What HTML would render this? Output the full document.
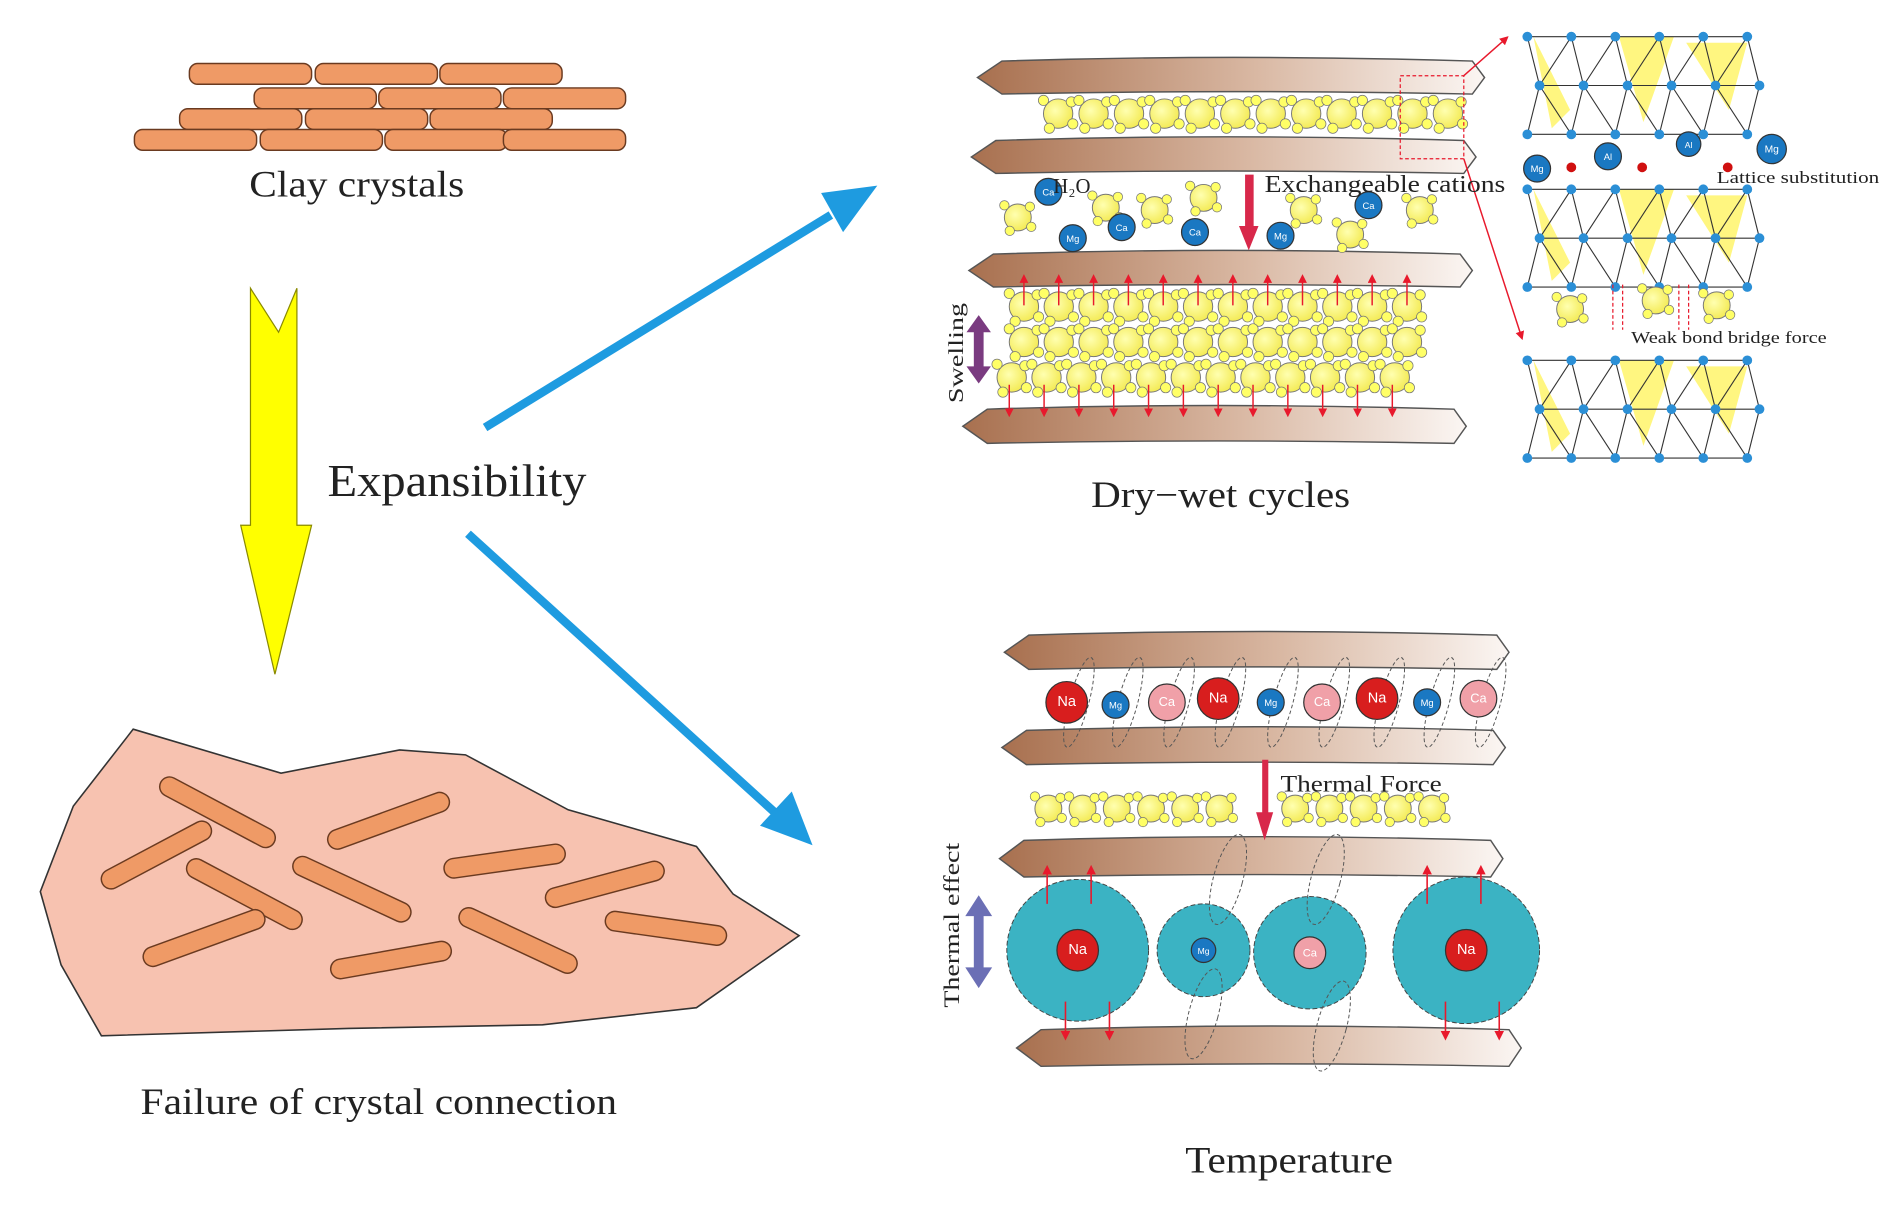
<!DOCTYPE html>
<html><head><meta charset="utf-8">
<style>
html,body{margin:0;padding:0;background:#fff;width:1900px;height:1208px;overflow:hidden}
svg{display:block}
text{font-family:"Liberation Serif",serif;fill:#222}
</style></head>
<body>
<svg id="s" width="1900" height="1208" viewBox="0 0 1555 989" preserveAspectRatio="none" xmlns="http://www.w3.org/2000/svg">
<defs>
<linearGradient id="pl" x1="0" x2="1" y1="0" y2="0">
<stop offset="0" stop-color="#a8704f"/><stop offset="0.55" stop-color="#d9b8a3"/><stop offset="1" stop-color="#fbf6f3"/>
</linearGradient>
<radialGradient id="yb" cx="0.4" cy="0.4" r="0.7"><stop offset="0" stop-color="#ffffb0"/><stop offset="1" stop-color="#f2e84a"/></radialGradient>
<marker id="ra" markerWidth="6" markerHeight="6" refX="3" refY="3" orient="auto"><path d="M0,0L6,3L0,6z" fill="#e8192c"/></marker>
</defs>
<g id="g"></g>
<text x="292" y="161" font-size="30" text-anchor="middle" textLength="176" lengthAdjust="spacingAndGlyphs">Clay crystals</text>
<text x="268" y="406" font-size="37" textLength="212" lengthAdjust="spacingAndGlyphs">Expansibility</text>
<text x="115" y="912" font-size="30" textLength="390" lengthAdjust="spacingAndGlyphs">Failure of crystal connection</text>
<text x="893" y="415" font-size="30" textLength="212" lengthAdjust="spacingAndGlyphs">Dry−wet cycles</text>
<text x="970" y="960" font-size="30" textLength="170" lengthAdjust="spacingAndGlyphs">Temperature</text>
<text x="1035" y="157" font-size="20" textLength="197" lengthAdjust="spacingAndGlyphs">Exchangeable cations</text>
<text x="862" y="158" font-size="17">H₂O</text>
<text x="1405" y="150" font-size="14" textLength="133" lengthAdjust="spacingAndGlyphs">Lattice substitution</text>
<text x="1335" y="281" font-size="14" textLength="160" lengthAdjust="spacingAndGlyphs">Weak bond bridge force</text>
<text x="1048" y="648" font-size="19" textLength="132" lengthAdjust="spacingAndGlyphs">Thermal Force</text>
<text transform="translate(788,330) rotate(-90)" font-size="17" textLength="82" lengthAdjust="spacingAndGlyphs">Swelling</text>
<text transform="translate(785,825) rotate(-90)" font-size="18" textLength="135" lengthAdjust="spacingAndGlyphs">Thermal effect</text>
</svg>
<script>
var g=document.getElementById('g'),h='';
function brick(x,y,w,hh,fill){var r=hh/2;return '<rect x="'+x+'" y="'+y+'" width="'+w+'" height="'+hh+'" rx="'+(r*0.8)+'" fill="'+(fill||'#ef9a66')+'" stroke="#6a3a20" stroke-width="1.2"/>';}
[[155,52],[258,52],[360,52],[208,72],[310,72],[412,72],[147,89],[250,89],[352,89],[110,106],[213,106],[315,106],[412,106]].forEach(function(b){h+=brick(b[0],b[1],100,17);});
h+='<path d="M205,236L228,272L243,236V430L255,430L225,552L197,430L205,430Z" fill="#ffff00" stroke="#8a8a00" stroke-width="1"/>';
h+='<line x1="397" y1="350" x2="680" y2="176" stroke="#1e9be0" stroke-width="7"/><path d="M718,152L672,158L690,190Z" fill="#1e9be0"/>';
h+='<line x1="383" y1="437" x2="635" y2="666" stroke="#1e9be0" stroke-width="7"/><path d="M665,692L622,676L648,648Z" fill="#1e9be0"/>';
h+='<path d="M109,597L230,633L327,614L381,618L465,663L570,693L600,732L654,766L570,825L444,839L285,842L83,848L50,790L33,730L60,660Z" fill="#f7c2b0" stroke="#333" stroke-width="1.3"/>';
function rod(cx,cy,len,ang){return '<g transform="translate('+cx+','+cy+') rotate('+ang+')"><rect x="'+(-len/2)+'" y="-8" width="'+len+'" height="16" rx="8" fill="#ef9a66" stroke="#6a3a20" stroke-width="1.2"/></g>';}
[[178,665,105,28],[318,672,105,-20],[128,700,100,-28],[200,732,105,28],[288,728,105,25],[413,705,100,-8],[495,724,100,-15],[167,768,105,-20],[320,786,100,-10],[424,770,105,25],[545,760,100,8]].forEach(function(r){h+=rod(r[0],r[1],r[2],r[3]);});
function plate(x1,x2,y,hh){var m=hh/2;return '<path d="M'+(x1+20)+','+y+'Q'+((x1+x2)/2)+','+(y-6)+' '+(x2-10)+','+y+'L'+x2+','+(y+m)+'L'+(x2-10)+','+(y+hh)+'Q'+((x1+x2)/2)+','+(y+hh-4)+' '+(x1+20)+','+(y+hh)+'L'+x1+','+(y+m)+'Z" fill="url(#pl)" stroke="#555" stroke-width="1.2"/>';}
[[800,1215,50,27],[795,1208,115,27],[793,1205,208,27],[788,1200,335,28],[822,1235,520,28],[820,1232,598,28],[818,1230,688,30],[832,1245,843,30]].forEach(function(p){h+=plate(p[0],p[1],p[2],p[3]);});
function mol(x,y,r){r=r||11;var s='<circle cx="'+x+'" cy="'+y+'" r="'+r+'" fill="url(#yb)" stroke="#777" stroke-width="0.8"/>';[[-1,-0.9],[0.9,-0.8],[1,0.7],[-0.6,1]].forEach(function(d){s+='<circle cx="'+(x+d[0]*r)+'" cy="'+(y+d[1]*r)+'" r="'+(r*0.35)+'" fill="#ffff66" stroke="#777" stroke-width="0.6"/>';});return s;}
for(var i=0;i<12;i++)h+=mol(866+i*29,93,12);
for(var row=0;row<3;row++)for(i=0;i<12;i++){var x=838+i*28.5-(row==2?10:0),y=251+row*29;h+=mol(x,y,12);}
for(i=0;i<12;i++){var x=838+i*28.5;h+='<line x1="'+x+'" y1="250" x2="'+x+'" y2="228" stroke="#e8192c" stroke-width="1.2" marker-end="url(#ra)"/>';h+='<line x1="'+(x-12)+'" y1="315" x2="'+(x-12)+'" y2="338" stroke="#e8192c" stroke-width="1.2" marker-end="url(#ra)"/>';}
[[833,178],[905,170],[945,172],[985,162],[1067,172],[1105,192],[1162,172]].forEach(function(m){h+=mol(m[0],m[1],11);});
function ion(x,y,r,c,t){return '<circle cx="'+x+'" cy="'+y+'" r="'+r+'" fill="'+c+'" stroke="#333" stroke-width="1"/><text x="'+x+'" y="'+(y+3)+'" font-size="'+(r*0.7)+'" text-anchor="middle" style="fill:#fff;font-family:Liberation Sans">'+t+'</text>';}
[[858,157,'Ca'],[878,195,'Mg'],[918,186,'Ca'],[978,190,'Ca'],[1048,193,'Mg'],[1120,168,'Ca']].forEach(function(m){h+=ion(m[0],m[1],11,'#1a78c2',m[2]);});
h+='<path d="M1019,143V185H1014L1022,205L1030,185H1026V143Z" fill="#d8284a"/>';
h+='<path d="M1033,622V665H1028L1035,688L1042,665H1038V622Z" fill="#d8284a"/>';
h+='<path d="M801,258L791,272H797V300H791L801,314L811,300H805V272H811Z" fill="#7a3b80"/>';
h+='<path d="M801,733L790,750H797V792H790L801,809L812,792H805V750H812Z" fill="#6b6fb5"/>';
h+='<rect x="1146" y="62" width="52" height="68" fill="none" stroke="#e8192c" stroke-dasharray="3,2" stroke-width="1"/>';
h+='<line x1="1198" y1="62" x2="1232" y2="32" stroke="#e8192c" stroke-width="1.2" marker-end="url(#ra)"/><line x1="1198" y1="130" x2="1245" y2="275" stroke="#e8192c" stroke-width="1.2" marker-end="url(#ra)"/>';
function lat(ox,oy){var s='',pts=[];for(var r=0;r<3;r++)for(var c=0;c<6;c++)pts.push([ox+c*36+(r%2)*10,oy+r*40]);
s+='<path d="M'+(ox+5)+','+oy+'L'+(ox+35)+','+(oy+60)+'L'+(ox+20)+','+(oy+75)+'Z M'+(ox+75)+','+oy+'L'+(ox+120)+','+oy+'L'+(ox+95)+','+(oy+70)+'Z M'+(ox+130)+','+(oy+5)+'L'+(ox+180)+','+(oy+5)+'L'+(ox+165)+','+(oy+60)+'Z" fill="#fff46a" opacity="0.85"/>';
for(var i=0;i<pts.length;i++)for(var j=i+1;j<pts.length;j++){var dx=pts[i][0]-pts[j][0],dy=pts[i][1]-pts[j][1];if(dx*dx+dy*dy<2600)s+='<line x1="'+pts[i][0]+'" y1="'+pts[i][1]+'" x2="'+pts[j][0]+'" y2="'+pts[j][1]+'" stroke="#333" stroke-width="0.9"/>';}
pts.forEach(function(p){s+='<circle cx="'+p[0]+'" cy="'+p[1]+'" r="4" fill="#2b8fd6"/>';});return s;}
h+=lat(1250,30)+lat(1250,155)+lat(1250,295);
h+=ion(1258,138,11,'#1a78c2','Mg')+ion(1316,128,11,'#1a78c2','Al')+ion(1382,118,10,'#1a78c2','Al')+ion(1450,122,12,'#1a78c2','Mg');
[1286,1344,1414].forEach(function(x){h+='<circle cx="'+x+'" cy="137" r="4" fill="#d01010"/>';});
[[1285,253],[1355,246],[1405,250]].forEach(function(m){h+=mol(m[0],m[1],11);});
[1320,1328,1374,1382].forEach(function(x){h+='<line x1="'+x+'" y1="233" x2="'+x+'" y2="270" stroke="#e8192c" stroke-dasharray="3,2" stroke-width="1"/>';});
var ions=[[873,575,17,'#d81e1e','Na'],[913,577,11,'#1a78c2','Mg'],[955,575,15,'#f0a0a8','Ca'],[997,572,17,'#d81e1e','Na'],[1040,575,11,'#1a78c2','Mg'],[1082,575,15,'#f0a0a8','Ca'],[1127,572,17,'#d81e1e','Na'],[1168,575,11,'#1a78c2','Mg'],[1210,572,15,'#f0a0a8','Ca']];
ions.forEach(function(m,i){h+='<ellipse cx="'+(m[0]+10)+'" cy="575" rx="8" ry="38" fill="none" stroke="#555" stroke-dasharray="3,2" stroke-width="0.8" transform="rotate(15 '+(m[0]+10)+' 575)"/>';h+=ion(m[0],m[1],m[2],m[3],m[4]);});
for(i=0;i<6;i++)h+=mol(858+i*28,662,11);
for(i=0;i<5;i++)h+=mol(1060+i*28,662,11);
[[882,778,58,17,'#d81e1e','Na'],[985,778,38,10,'#1a78c2','Mg'],[1072,780,46,13,'#f0a0a8','Ca'],[1200,778,60,17,'#d81e1e','Na']].forEach(function(c){h+='<circle cx="'+c[0]+'" cy="'+c[1]+'" r="'+c[2]+'" fill="#3bb3c3" stroke="#444" stroke-dasharray="4,2" stroke-width="0.8"/>'+ion(c[0],c[1],c[3],c[4],c[5]);});
[[1005,720],[1085,720],[985,830],[1090,840]].forEach(function(e){h+='<ellipse cx="'+e[0]+'" cy="'+e[1]+'" rx="12" ry="38" fill="none" stroke="#555" stroke-dasharray="3,2" stroke-width="0.8" transform="rotate(15 '+e[0]+' '+e[1]+')"/>';});
[857,893,1168,1212].forEach(function(x){h+='<line x1="'+x+'" y1="740" x2="'+x+'" y2="712" stroke="#e8192c" stroke-width="1.3" marker-end="url(#ra)"/><line x1="'+(x+15)+'" y1="820" x2="'+(x+15)+'" y2="848" stroke="#e8192c" stroke-width="1.3" marker-end="url(#ra)"/>';});
g.innerHTML=h;
</script>
</body></html>
